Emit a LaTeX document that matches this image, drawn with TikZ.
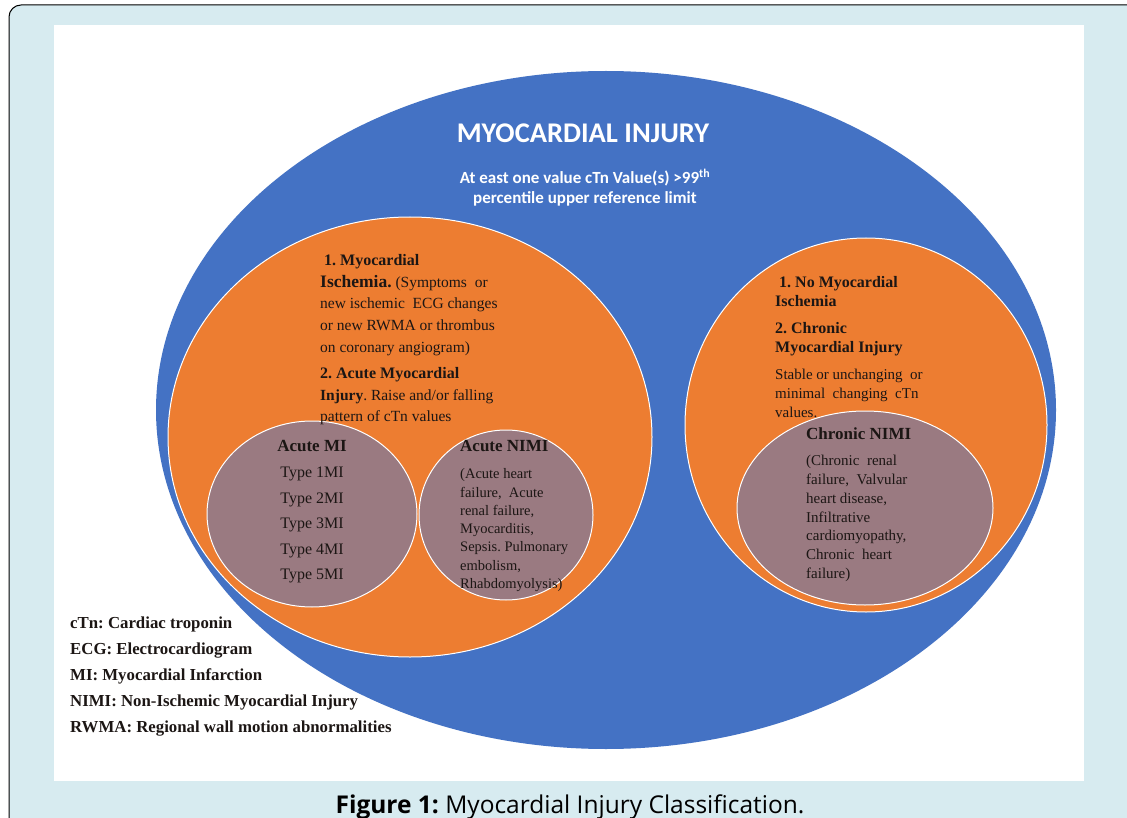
\documentclass[tikz,border=0pt]{standalone}
\usepackage{fontspec}
\setmainfont{Liberation Serif}
\newfontfamily\headfont{Carlito}
\newfontfamily\capfont{Open Sans}
\usetikzlibrary{shapes.geometric,positioning}
\frenchspacing
\definecolor{frameblue}{HTML}{D7EBF0}
\definecolor{injblue}{HTML}{4472C4}
\definecolor{injorange}{HTML}{ED7D31}
\definecolor{injmauve}{HTML}{9A7A81}
\definecolor{inkdark}{HTML}{1C1614}
\tikzset{
  blob/.style={ellipse,draw=white,line width=1pt,inner sep=0pt},
  bigblob/.style={blob,fill=injblue,draw=none},
  midblob/.style={blob,fill=injorange},
  smallblob/.style={blob,fill=injmauve},
  txt/.style={inner sep=0pt,text=inkdark,align=left},
  whitetxt/.style={inner sep=0pt,text=white,align=center},
  every node/.style={font=\small}
}

\begin{document}
\begin{tikzpicture}[x=1pt,y=-1pt]
\useasboundingbox (0,0) rectangle (1127,818);
% frame and panel
\draw[fill=frameblue,line width=1pt,rounded corners=12pt] (9,5) rectangle (1200,880);
\fill[white] (54,25) rectangle (1084,781);

% circles
\node[bigblob,minimum width=900pt,minimum height=678pt] (injury) at (606,410) {};
\node[midblob,minimum width=484pt,minimum height=440pt] (acute) at (410,437) {};
\node[midblob,minimum width=362pt,minimum height=374pt] (chronic) at (866,425) {};
\node[smallblob,minimum width=210pt,minimum height=186pt] (acutemi) at (312,514) {};
\node[smallblob,minimum width=174pt,minimum height=170pt] (acutenimi) at (506,515) {};
\node[smallblob,minimum width=256pt,minimum height=194pt] (chronicnimi) at (865,508) {};

% headings
\node[whitetxt,font=\headfont\bfseries\fontsize{28.5}{30}\selectfont] (title) at (583,133) {MYOCARDIAL INJURY};
\node[whitetxt,font=\headfont\bfseries\fontsize{17}{20}\selectfont] (subtitle) at (585,188)
  {At east one value cTn Value(s) >99\textsuperscript{th}\\percentile upper reference limit};

% text in the circles
\node[txt,anchor=north west,font=\fontsize{15.5}{21.8}\selectfont] (acutetext) at (320,254)
  {\fontsize{16}{21.8}\selectfont\textbf{\ 1. Myocardial}\\
   {\fontsize{17.5}{21.8}\selectfont\textbf{Ischemia.}} (Symptoms\ \ or\\
   new ischemic\ \ ECG changes\\
   or new RWMA or thrombus\\
   on coronary angiogram)\\[4pt]
   \fontsize{16}{21.8}\selectfont\textbf{2. Acute Myocardial}\\
   \textbf{Injury}. Raise and/or falling\\
   pattern of cTn values};
\node[txt,anchor=north west,font=\fontsize{15}{19}\selectfont] (chronictext) at (775,276)
  {\fontsize{16}{19}\selectfont\textbf{\ 1. No Myocardial}\\
   \fontsize{16}{19}\selectfont\textbf{Ischemia}\\[8pt]
   \fontsize{16}{19}\selectfont\textbf{2. Chronic}\\
   \fontsize{16}{19}\selectfont\textbf{Myocardial Injury}\\[8pt]
   Stable or unchanging\ \ or\\
   minimal\ \ changing\ \ cTn\\
   values.};
\node[txt,align=center,anchor=north,font=\fontsize{16}{25.5}\selectfont] (mitext) at (312,440)
  {\fontsize{17}{25.5}\selectfont\textbf{Acute MI}\\[1pt]
   Type 1MI\\ Type 2MI\\ Type 3MI\\ Type 4MI\\ Type 5MI};
\node[txt,anchor=north west,font=\fontsize{14.5}{18.3}\selectfont] (nimitext) at (460,440)
  {\fontsize{17}{18.3}\selectfont\textbf{Acute NIMI}\\[9pt]
   (Acute heart\\ failure,\ \ Acute\\ renal failure,\\ Myocarditis,\\
   Sepsis. Pulmonary\\ embolism,\\ Rhabdomyolysis)};
\node[txt,anchor=north west,font=\fontsize{15}{18.8}\selectfont] (cnimitext) at (806,428)
  {\fontsize{17}{18.8}\selectfont\textbf{Chronic NIMI}\\[7pt]
   (Chronic\ \ renal\\ failure,\ \ Valvular\\ heart disease,\\ Infiltrative\\
   cardiomyopathy,\\ Chronic\ \ heart\\ failure)};

% abbreviations
\node[txt,anchor=north west,font=\bfseries\fontsize{16.8}{26}\selectfont] (legend) at (70,617)
  {cTn: Cardiac troponin\\
   ECG: Electrocardiogram\\
   MI: Myocardial Infarction\\
   NIMI: Non-Ischemic Myocardial Injury\\
   RWMA: Regional wall motion abnormalities};

% caption
\node[inner sep=0pt,text=black,font=\capfont\fontsize{24.5}{26}\selectfont] (caption) at (570,807)
  {\textbf{Figure 1:} Myocardial Injury Classification.};
\end{tikzpicture}
\end{document}
